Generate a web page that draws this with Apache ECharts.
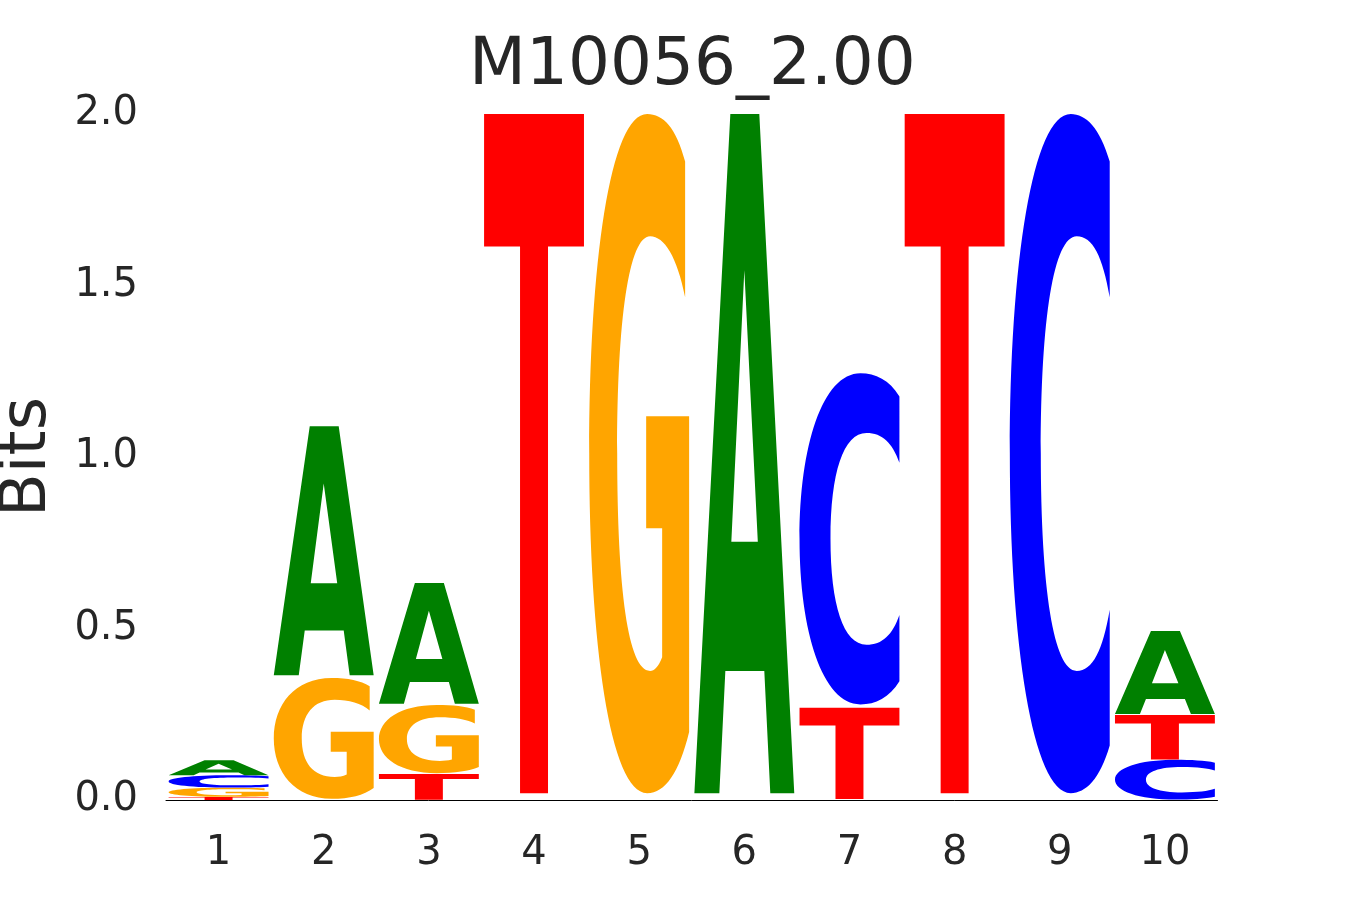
<!DOCTYPE html>
<html><head><meta charset="utf-8">
<script src="https://cdn.jsdelivr.net/npm/echarts@6/dist/echarts.min.js"></script>
<style>html,body{margin:0;padding:0;background:#fff}#c{width:1350px;height:900px}</style>
</head><body><div id="c"></div>
<script>
// ---- data ----
const positions = ['1','2','3','4','5','6','7','8','9','10'];
const letters = ['A','C','G','T'];
const bitsA = [0.044, 0.734, 0.356, 0, 0, 2.0, 0, 0, 0, 0.245];
const bitsC = [0.036, 0, 0, 0, 0, 0, 0.975, 0, 2.0, 0.117];
const bitsG = [0.027, 0.356, 0.201, 0, 2.0, 0, 0, 0, 0, 0];
const bitsT = [0.009, 0, 0.076, 2.0, 0, 0, 0.269, 2.0, 0, 0.131];
const yTicks = [0.0, 0.5, 1.0, 1.5, 2.0];
const titleText = 'M10056_2.00';
const yName = 'Bits';

// ---- glyphs (unit box 0..100, y down) ----
const GLYPHS = {
  A: 'M0,100 L36,0 L65,0 L100,100 L76,100 L70,82 L31,82 L25,100 Z M50,23 L37,63 L63.5,63 Z',
  C: 'M100,7 C90,2 76,0 61,0 C23,0 0,22 0,50 C0,78 23,100 61,100 C76,100 90,98 100,93 L100,73 C93,79 83,82 67,82 C44,82 31,70 31,50 C31,30 44,18 67,18 C83,18 93,21 100,27 Z',
  G: 'M96,7 C87,2 74,0 58,0 C21,0 0,22 0,50 C0,78 21,100 58,100 C76,100 90,97 100,91 L100,44.5 L57,44.5 L57,61 L73,61 L73,80 C69,81.5 65,82 61,82 C39,82 28,70 28,50 C28,30 40,18 61,18 C75,18 88,21 96,27 Z',
  T: 'M0,0 L100,0 L100,19.5 L64,19.5 L64,100 L36,100 L36,19.5 L0,19.5 Z'
};
const COLORS = { A: '#008000', C: '#0000ff', G: '#ffa500', T: '#ff0000' };

// build stacks (ascending order, smallest at bottom)
const bits = { A: bitsA, C: bitsC, G: bitsG, T: bitsT };
const stackData = [];
positions.forEach((p, i) => {
  const items = letters.map(l => ({ l, v: bits[l][i] })).filter(d => d.v > 0)
    .sort((a, b) => a.v - b.v);
  let cum = 0;
  items.forEach(d => {
    stackData.push([i, cum, cum + d.v, letters.indexOf(d.l)]);
    cum += d.v;
  });
});

const chart = echarts.init(document.getElementById('c'), null, { renderer: 'canvas' });
const textColor = '#262626';
const font = 'DejaVu Sans';
chart.setOption({
  animation: false,
  backgroundColor: '#ffffff',
  title: {
    text: titleText,
    left: 469,
    top: 34,
    padding: 0,
    textStyle: { fontSize: 66, fontWeight: 'normal', color: textColor, fontFamily: font }
  },
  grid: { left: 166, right: 132.5, top: 114, bottom: 100, containLabel: false, outerBoundsMode: 'none' },
  xAxis: {
    type: 'category',
    data: positions,
    axisLine: { show: true, lineStyle: { color: '#000000', width: 1 } },
    axisTick: { show: false },
    axisLabel: { fontSize: 40, color: textColor, margin: 34, fontFamily: font },
    splitLine: { show: false }
  },
  yAxis: {
    type: 'value',
    min: yTicks[0],
    max: yTicks[yTicks.length - 1],
    interval: 0.5,
    axisLine: { show: false },
    axisTick: { show: false },
    splitLine: { show: false },
    axisLabel: { fontSize: 40, color: textColor, margin: 28, fontFamily: font,
      padding: [6, 0, 0, 0],
      formatter: v => v.toFixed(1) },
    name: yName,
    nameLocation: 'middle',
    nameGap: 106,
    nameRotate: 90,
    nameTextStyle: { fontSize: 64, color: textColor, fontFamily: font }
  },
  series: [{
    type: 'custom',
    data: stackData,
    encode: { x: 0, y: [1, 2] },
    clip: false,
    renderItem: function (params, api) {
      const i = api.value(0), y0 = api.value(1), y1 = api.value(2);
      const l = letters[api.value(3)];
      const pTop = api.coord([i, y1]);
      const pBot = api.coord([i, y0]);
      const bw = api.size([1, 0])[0] * 0.95;
      const h = pBot[1] - pTop[1];
      return {
        type: 'path',
        x: pTop[0] - bw / 2,
        y: pTop[1],
        scaleX: bw / 100,
        scaleY: h * 0.99 / 100,
        shape: { pathData: GLYPHS[l] },
        style: { fill: COLORS[l], stroke: null }
      };
    }
  }]
});
</script></body></html>
